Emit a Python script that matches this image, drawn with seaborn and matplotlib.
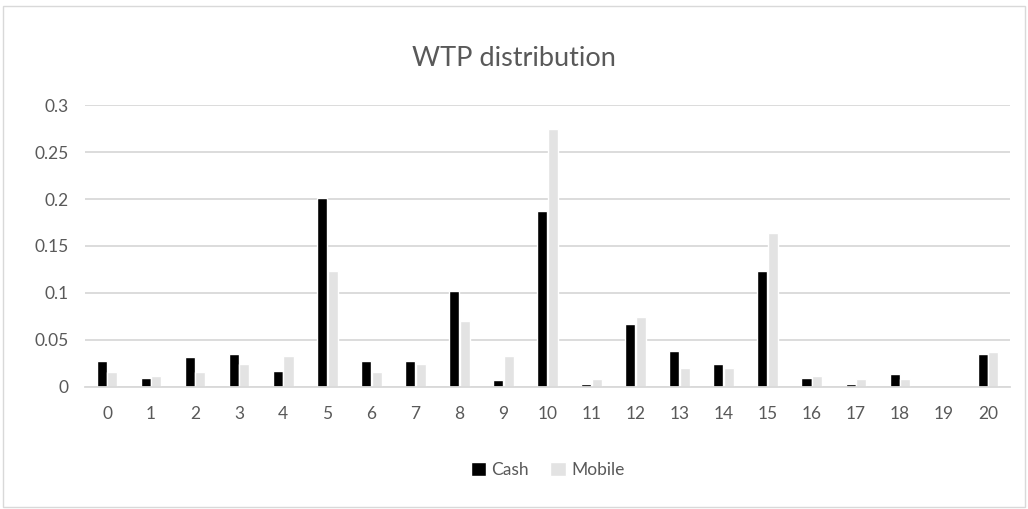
import matplotlib
matplotlib.use("Agg")
import matplotlib.pyplot as plt
import seaborn as sns
import pandas as pd
from matplotlib.patches import Rectangle

categories = [str(i) for i in range(21)]
cash = [0.028, 0.010, 0.032, 0.035, 0.017, 0.201, 0.028, 0.028, 0.102, 0.007,
        0.187, 0.003, 0.067, 0.038, 0.024, 0.123, 0.010, 0.003, 0.014, 0.0, 0.035]
mobile = [0.016, 0.012, 0.016, 0.024, 0.033, 0.123, 0.016, 0.024, 0.070, 0.033,
          0.275, 0.008, 0.074, 0.020, 0.020, 0.164, 0.012, 0.008, 0.008, 0.0, 0.037]
yticks = [0, 0.05, 0.1, 0.15, 0.2, 0.25, 0.3]
ytick_labels = ["0", "0.05", "0.1", "0.15", "0.2", "0.25", "0.3"]

df = pd.DataFrame({
    "x": categories * 2,
    "value": cash + mobile,
    "series": ["Cash"] * len(cash) + ["Mobile"] * len(mobile),
})

sns.set_theme(style="white")
plt.rcParams['font.family'] = ['Lato', 'DejaVu Sans']
text_col = "#595959"

fig = plt.figure(figsize=(10.28, 5.09), dpi=100)
ax = fig.add_axes([0.0827, 0.2397, 0.8998, 0.554])

sns.barplot(data=df, x="x", y="value", hue="series", order=categories,
            palette={"Cash": "#000000", "Mobile": "#e3e3e3"},
            width=0.48, gap=0.05, ax=ax, legend=True, saturation=1)

ax.set_xlim(-0.5, 20.5)
ax.set_ylim(0, 0.3)
ax.set_yticks(yticks)
ax.set_yticklabels(ytick_labels)
ax.yaxis.grid(True, color="#d9d9d9", linewidth=1.3)
ax.set_axisbelow(True)
for s in ["top", "right", "left"]:
    ax.spines[s].set_visible(False)
ax.spines["bottom"].set_color("#d9d9d9")
ax.spines["bottom"].set_linewidth(1.3)
ax.tick_params(axis="both", length=0, labelsize=12.5, colors=text_col)
ax.tick_params(axis="x", pad=14)
ax.tick_params(axis="y", pad=12)
ax.set_xlabel("")
ax.set_ylabel("")

leg = ax.legend(loc="center", bbox_to_anchor=(0.5, -0.295), ncol=2, frameon=False,
                fontsize=12.5, handlelength=0.9, handleheight=0.9, handletextpad=0.3,
                columnspacing=1.2)
for t in leg.get_texts():
    t.set_color(text_col)

fig.text(0.5, 0.886, "WTP distribution", ha="center", va="center", fontsize=19.5,
         color=text_col)

fig.patches.append(Rectangle((0.003, 0.004), 0.994, 0.984, transform=fig.transFigure,
                             fill=False, edgecolor="#d9d9d9", linewidth=1))

fig.savefig("out.png", dpi=100)
